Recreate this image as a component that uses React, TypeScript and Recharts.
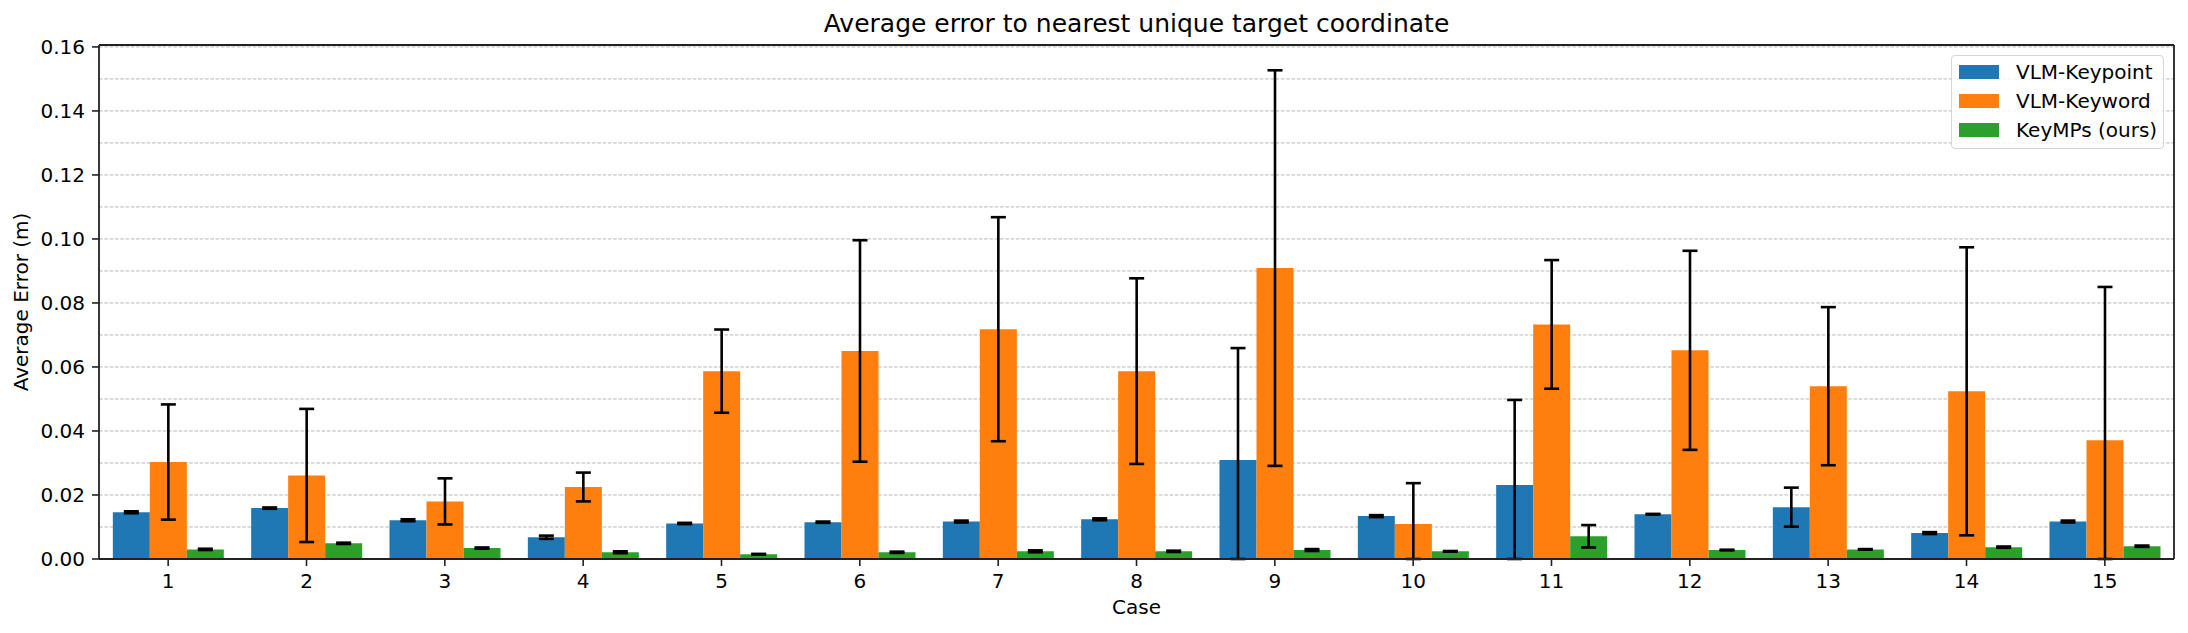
import React from 'react';
import { BarChart, Bar, XAxis, YAxis, CartesianGrid, Legend, ErrorBar } from 'recharts';

const cases = ['1', '2', '3', '4', '5', '6', '7', '8', '9', '10', '11', '12', '13', '14', '15'];
const seriesNames = ['VLM-Keypoint', 'VLM-Keyword', 'KeyMPs (ours)'];

const keypoint = [0.0146, 0.0159, 0.0121, 0.0068, 0.0111, 0.0115, 0.0117, 0.0124, 0.0309, 0.0134, 0.0231, 0.014, 0.0162, 0.0081, 0.0117];
const keypointErr = [0.0003, 0.0002, 0.0003, 0.0005, 0.0002, 0.0002, 0.0003, 0.0003, 0.035, 0.0003, 0.0266, 0.0001, 0.0061, 0.0003, 0.0003];

const keyword = [0.0303, 0.0261, 0.018, 0.0225, 0.0587, 0.065, 0.0718, 0.0587, 0.0909, 0.0109, 0.0733, 0.0652, 0.054, 0.0524, 0.0371];
const keywordErr = [0.018, 0.0208, 0.0072, 0.0045, 0.013, 0.0346, 0.035, 0.029, 0.0618, 0.0128, 0.0201, 0.0311, 0.0247, 0.045, 0.0479];

const keymps = [0.003, 0.0049, 0.0034, 0.0021, 0.0015, 0.0021, 0.0024, 0.0024, 0.0028, 0.0024, 0.0071, 0.0028, 0.003, 0.0037, 0.004];
const keympsErr = [0.0002, 0.0002, 0.0002, 0.0003, 0.0001, 0.0002, 0.0003, 0.0002, 0.0003, 0.0001, 0.0035, 0.0001, 0.0001, 0.0002, 0.0002];

const gridValues = [0, 0.01, 0.02, 0.03, 0.04, 0.05, 0.06, 0.07, 0.08, 0.09, 0.1, 0.11, 0.12, 0.13, 0.14, 0.15, 0.16];

// lower error clipped at zero like matplotlib's axis does
const clip = (v: number, e: number) => [Math.min(e, v), e];

const data = cases.map((c, i) => ({
  case: c,
  keypoint: keypoint[i],
  keypointErr: clip(keypoint[i], keypointErr[i]),
  keyword: keyword[i],
  keywordErr: clip(keyword[i], keywordErr[i]),
  keymps: keymps[i],
  keympsErr: clip(keymps[i], keympsErr[i]),
}));

const FONT = '"DejaVu Sans", sans-serif';
const AXIS = { stroke: '#222', strokeWidth: 1.8 };

const YTick = (props: any) => {
  const { x, y, payload } = props;
  const v = payload.value;
  if (Math.round(v * 100) % 2 !== 0) return null;
  return (
    <g>
      <line x1={x - 7} x2={x} y1={y} y2={y} stroke="#222" strokeWidth={1.6} />
      <text x={x - 14} y={y} dy="0.35em" textAnchor="end" fontSize={20} fill="#000" fontFamily={FONT}>
        {v.toFixed(2)}
      </text>
    </g>
  );
};

const renderLegend = (props: any) => {
  const items = [...(props.payload || [])].sort(
    (a: any, b: any) => seriesNames.indexOf(a.value) - seriesNames.indexOf(b.value)
  );
  return (
    <div
      style={{
        background: 'rgba(255,255,255,0.8)',
        border: '1.5px solid #d6d6d6',
        borderRadius: 4,
        padding: '1px 0 4px 7px',
        fontFamily: FONT,
        fontSize: 20,
        color: '#000',
        boxSizing: 'border-box',
      }}
    >
      {items.map((entry: any) => (
        <div key={entry.value} style={{ display: 'flex', alignItems: 'center', height: 29 }}>
          <span style={{ width: 40, height: 14, background: entry.color, marginRight: 17, display: 'inline-block' }} />
          <span>{entry.value}</span>
        </div>
      ))}
    </div>
  );
};

export default function App() {
  return (
    <div style={{ position: 'absolute', left: 0, top: 0, width: 2188, height: 633, background: '#fff', fontFamily: FONT }}>
      <BarChart
        width={2188}
        height={633}
        data={data}
        margin={{ top: 44, right: 13, bottom: 14, left: 19 }}
        barCategoryGap="10%"
        barGap={0}
      >
        <CartesianGrid vertical={false} stroke="#b8b8b8" strokeDasharray="3.7 1.6" strokeWidth={1} />
        <XAxis
          dataKey="case"
          height={60}
          tickSize={7}
          tickMargin={8}
          axisLine={AXIS}
          tickLine={{ stroke: '#222', strokeWidth: 1.6 }}
          tick={{ fontSize: 20, fill: '#000', fontFamily: FONT }}
        />
        <XAxis xAxisId="top" orientation="top" dataKey="case" height={1} tick={false} tickLine={false} axisLine={AXIS} />
        <YAxis
          width={80}
          domain={[0, 0.1606]}
          ticks={gridValues}
          interval={0}
          allowDataOverflow
          tickSize={0}
          tickMargin={0}
          tickLine={false}
          axisLine={AXIS}
          tick={<YTick />}
        />
        <YAxis yAxisId="right" orientation="right" width={1} domain={[0, 1]} tick={false} tickLine={false} axisLine={AXIS} />
        <Legend
          content={renderLegend}
          layout="vertical"
          verticalAlign="middle"
          align="center"
          wrapperStyle={{ top: 55, left: 1951, width: 213, right: 'auto', bottom: 'auto' }}
        />
        <Bar dataKey="keypoint" name={seriesNames[0]} fill="#1f77b4" isAnimationActive={false}>
          <ErrorBar dataKey="keypointErr" width={7.5} strokeWidth={2.6} stroke="#000" isAnimationActive={false} />
        </Bar>
        <Bar dataKey="keyword" name={seriesNames[1]} fill="#ff7f0e" isAnimationActive={false}>
          <ErrorBar dataKey="keywordErr" width={7.5} strokeWidth={2.6} stroke="#000" isAnimationActive={false} />
        </Bar>
        <Bar dataKey="keymps" name={seriesNames[2]} fill="#2ca02c" isAnimationActive={false}>
          <ErrorBar dataKey="keympsErr" width={7.5} strokeWidth={2.6} stroke="#000" isAnimationActive={false} />
        </Bar>
      </BarChart>
      <div style={{ position: 'absolute', left: 99, width: 2075, top: 10, textAlign: 'center', fontSize: 25, lineHeight: '28px', color: '#000' }}>
        Average error to nearest unique target coordinate
      </div>
      <div style={{ position: 'absolute', left: 99, width: 2075, top: 594, textAlign: 'center', fontSize: 20, lineHeight: '26px', color: '#000' }}>
        Case
      </div>
      <div
        style={{
          position: 'absolute',
          left: 21,
          top: 302,
          transform: 'translate(-50%, -50%) rotate(-90deg)',
          whiteSpace: 'nowrap',
          fontSize: 20,
          color: '#000',
        }}
      >
        Average Error (m)
      </div>
    </div>
  );
}
